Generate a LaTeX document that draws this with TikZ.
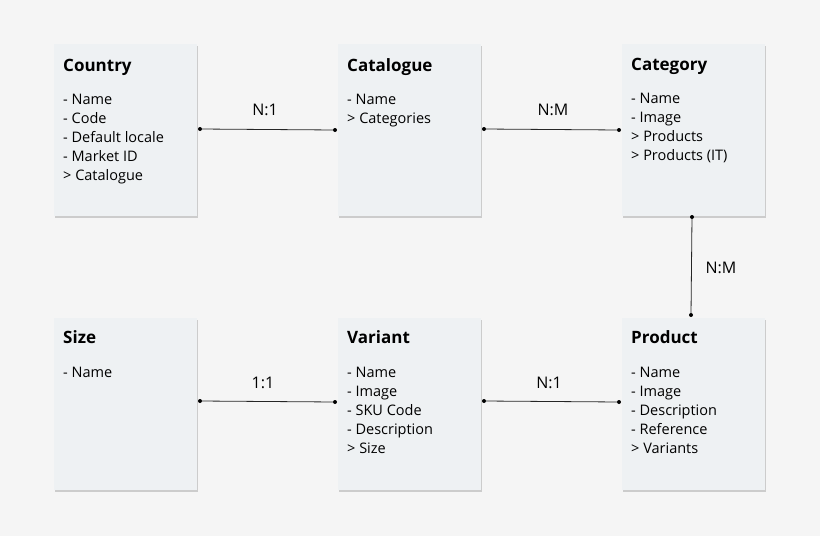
\documentclass[tikz,border=0pt]{standalone}
\usepackage{fontspec}
\setmainfont{Open Sans}
\usetikzlibrary{shadows}
\definecolor{bg}{HTML}{F5F5F5}
\definecolor{boxc}{HTML}{EEF1F3}
\begin{document}
\begin{tikzpicture}[x=1pt,y=-1pt,
  ent/.style={draw=none,fill=boxc,minimum width=143pt,minimum height=172pt,anchor=north west,
    drop shadow={shadow xshift=1pt,shadow yshift=-1.5pt,opacity=0.35,fill=black!50}},
  ttl/.style={anchor=base west,font=\fontsize{17}{20}\selectfont\bfseries,inner sep=0},
  itm/.style={anchor=north west,align=left,font=\fontsize{14.5}{19}\selectfont,inner sep=0},
  lnk/.style={line width=0.8pt,black!85},
  dot/.style={circle,fill=black,inner sep=0,minimum size=4pt},
  lab/.style={font=\fontsize{16}{19}\selectfont}]
\fill[bg] (0,0) rectangle (820,536);
\node[ent] (country) at (54,44) {};
\node[ent] (catalogue) at (338,44) {};
\node[ent] (category) at (622,44) {};
\node[ent] (size) at (54,318) {};
\node[ent] (variant) at (338,318) {};
\node[ent] (product) at (622,318) {};
\node[ttl] (t1) at (63,71) {Country};
\node[ttl] (t2) at (347,71) {Catalogue};
\node[ttl] (t3) at (631,70) {Category};
\node[ttl] (t4) at (63,343) {Size};
\node[ttl] (t5) at (347,343) {Variant};
\node[ttl] (t6) at (631,343) {Product};
\node[itm] (i1) at (63,94) {- Name\\- Code\\- Default locale\\- Market ID\\> Catalogue};
\node[itm] (i2) at (347,94) {- Name\\> Categories};
\node[itm] (i3) at (631,93) {- Name\\- Image\\> Products\\> Products (IT)};
\node[itm] (i4) at (63,367) {- Name};
\node[itm] (i5) at (347,367) {- Name\\- Image\\- SKU Code\\- Description\\> Size};
\node[itm] (i6) at (631,367) {- Name\\- Image\\- Description\\- Reference\\> Variants};
\node[dot] (a1) at (200,129) {}; \node[dot] (a2) at (335,130) {};
\node[dot] (b1) at (484,129) {}; \node[dot] (b2) at (619,130) {};
\node[dot] (c1) at (692,217) {}; \node[dot] (c2) at (691,315) {};
\node[dot] (d1) at (200,401) {}; \node[dot] (d2) at (335,402) {};
\node[dot] (e1) at (484,401) {}; \node[dot] (e2) at (619,402) {};
\draw[lnk] (a1) -- (a2); \draw[lnk] (b1) -- (b2); \draw[lnk] (c1) -- (c2);
\draw[lnk] (d1) -- (d2); \draw[lnk] (e1) -- (e2);
\node[lab] (l1) at (265,110) {N:1};
\node[lab] (l2) at (553,110) {N:M};
\node[lab] (l3) at (721,268) {N:M};
\node[lab] (l4) at (263,383) {1:1};
\node[lab] (l5) at (549,383) {N:1};
\end{tikzpicture}
\end{document}
